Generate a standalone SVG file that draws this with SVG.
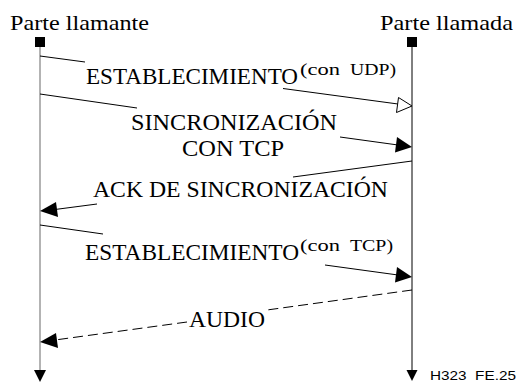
<svg xmlns="http://www.w3.org/2000/svg" width="517" height="382" viewBox="0 0 517 382">
<style>
text{font-family:'Liberation Serif','Times New Roman',serif;fill:#000}
.ln{stroke:#000;stroke-width:1;fill:none}
.dash{stroke-dasharray:10,5}
.fa{fill:#000;stroke:none}
.oa{fill:#fff;stroke:#000;stroke-width:1}
</style>
<rect width="517" height="382" fill="#fff"/>
<g id="caller">
<text x="10" y="30" font-size="22" textLength="139" lengthAdjust="spacingAndGlyphs">Parte llamante</text>
<rect x="35" y="37" width="10" height="10" fill="#000"/>
<line x1="40" y1="47" x2="40" y2="372" stroke="#808080" stroke-width="1.2"/>
<polygon points="34,370 46,370 40,382" fill="#000"/>
</g>
<g id="callee">
<text x="380" y="30" font-size="22" textLength="133" lengthAdjust="spacingAndGlyphs">Parte llamada</text>
<rect x="407" y="37" width="10" height="10" fill="#000"/>
<line x1="412" y1="47" x2="412" y2="372" stroke="#000" stroke-width="1"/>
<polygon points="406.5,370 417.5,370 412,381" fill="#000"/>
</g>
<g id="connectors">
<line class="ln" x1="40" y1="56" x2="85" y2="62"/>
<line class="ln" x1="283" y1="88.5" x2="398" y2="104"/>
<polygon class="oa" points="412,106 396.5,112.5 398.5,97.5"/>
<line class="ln" x1="40" y1="94" x2="137" y2="108"/>
<line class="ln" x1="340" y1="137" x2="398" y2="145"/>
<polygon class="fa" points="412,147 395,152.5 397,137"/>
<line class="ln" x1="412" y1="161" x2="293" y2="177"/>
<line class="ln" x1="97" y1="204" x2="55" y2="209.5"/>
<polygon class="fa" points="40,211 56,202 58,217"/>
<line class="ln" x1="40" y1="225" x2="103" y2="234"/>
<line class="ln" x1="325" y1="265" x2="398" y2="275"/>
<polygon class="fa" points="412,277 395,282.5 397,267"/>
<line class="ln dash" x1="412" y1="290" x2="267" y2="310"/>
<line class="ln dash" x1="187" y1="322" x2="55" y2="340"/>
<polygon class="fa" points="40,342 56,333 58,348"/>
</g>
<g id="labels">
<text x="86" y="84" font-size="23.5" textLength="212" lengthAdjust="spacingAndGlyphs">ESTABLECIMIENTO</text>
<text y="75" font-size="16"><tspan x="300" textLength="40" lengthAdjust="spacingAndGlyphs">(con</tspan><tspan x="350" textLength="46" lengthAdjust="spacingAndGlyphs">UDP)</tspan></text>
<text x="131" y="130" font-size="23.5" textLength="206" lengthAdjust="spacingAndGlyphs">SINCRONIZACIÓN</text>
<text x="182" y="156" font-size="23.5" textLength="102" lengthAdjust="spacingAndGlyphs">CON TCP</text>
<text x="93" y="197" font-size="23.5" textLength="295" lengthAdjust="spacingAndGlyphs">ACK DE SINCRONIZACIÓN</text>
<text x="85" y="260" font-size="23.5" textLength="214" lengthAdjust="spacingAndGlyphs">ESTABLECIMIENTO</text>
<text y="251" font-size="16"><tspan x="300" textLength="40" lengthAdjust="spacingAndGlyphs">(con</tspan><tspan x="350" textLength="43" lengthAdjust="spacingAndGlyphs">TCP)</tspan></text>
<text x="189" y="327" font-size="23.5" textLength="76" lengthAdjust="spacingAndGlyphs">AUDIO</text>
<text x="430" y="380" style="font-family:'Liberation Sans',Arial,sans-serif" font-size="13" textLength="86" lengthAdjust="spacingAndGlyphs" xml:space="preserve">H323  FE.25</text>
</g>
</svg>
